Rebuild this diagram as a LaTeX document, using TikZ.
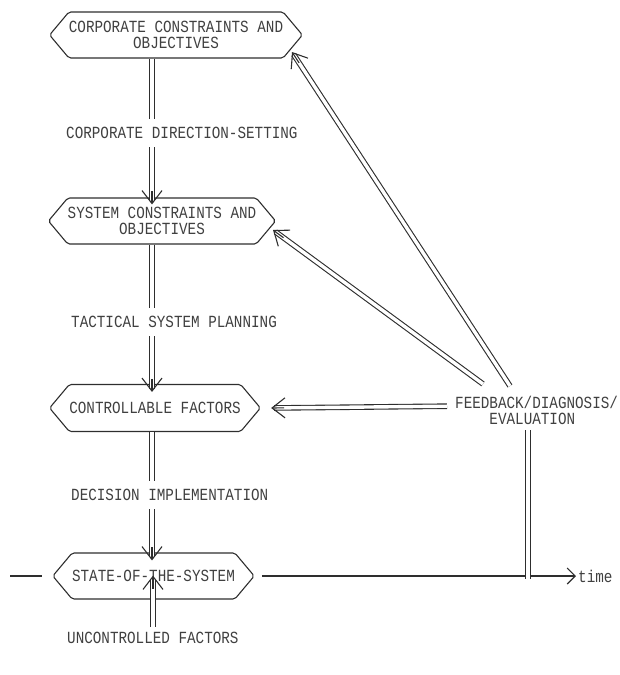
\documentclass[tikz,border=0pt]{standalone}
\usepackage{fontspec}
\newfontfamily\plotfont[FakeStretch=0.84]{Liberation Mono}
\usetikzlibrary{shapes.symbols,arrows.meta,calc}

% double-line shaft with an open V head at its end
\newcommand\dblto[2]{%
  \draw[dbl, shorten >=3pt] #1 -- #2;
  \draw[ink, -{Straight Barb[length=13pt,width=20pt]}] ($#2!13pt!#1$) -- #2;
}

\begin{document}
\begin{tikzpicture}[x=1pt,y=-1pt,
  ink/.style={draw=black!82, line width=1.1pt},
  txt/.style={font=\plotfont\fontsize{17}{15.5}\selectfont, text=black!75},
  hexbox/.style={ink, txt, signal, signal to=west and east,
    signal pointer angle=100, inner sep=0pt, align=center, rounded corners=2pt},
  lbl/.style={txt, fill=white, inner xsep=2pt, inner ysep=8pt},
  dbl/.style={ink, double=white, double distance=3.4pt},
]
\useasboundingbox (0,0) rectangle (619,675);

% the spine of the planning hierarchy
\coordinate (spine) at (152,0);

% hierarchy boxes
\node[hexbox, minimum width=247pt, minimum height=46pt] (b1) at (176,35)
  {CORPORATE CONSTRAINTS AND\\OBJECTIVES};
\node[hexbox, minimum width=217pt, minimum height=46pt] (b2) at (162,221)
  {SYSTEM CONSTRAINTS AND\\OBJECTIVES};
\node[hexbox, minimum width=196pt, minimum height=47pt] (b3) at (155,408)
  {CONTROLLABLE FACTORS};
\node[hexbox, minimum width=193pt, minimum height=46pt] (b4) at (153.5,576)
  {STATE-OF-THE-SYSTEM};

% downward flow
\dblto{(b1.south -| spine)}{($(b2.north -| spine)+(0,7)$)}
\dblto{(b2.south -| spine)}{($(b3.north -| spine)+(0,8)$)}
\dblto{(b3.south -| spine)}{($(b4.north -| spine)+(0,8)$)}

% process labels on the spine
\node[lbl, anchor=west] (l1) at (64,133) {CORPORATE DIRECTION-SETTING};
\node[lbl, anchor=west] (l2) at (69,322) {TACTICAL SYSTEM PLANNING};
\node[lbl, anchor=west] (l3) at (69,495) {DECISION IMPLEMENTATION};
\node[txt, anchor=west, inner sep=2pt] (l4) at (65,638) {UNCONTROLLED FACTORS};
\dblto{($(l4.north -| spine)+(1,-3)$)}{($(b4.south -| spine)+(1,-24)$)}

% feedback
\node[txt, anchor=north west, inner sep=0pt, align=left] (fb) at (455,396)
  {FEEDBACK/DIAGNOSIS/\\\phantom{FEED}EVALUATION};
\coordinate (d1) at (483,384);
\coordinate (d2) at (510,386);
\coordinate (t1) at (292,52);
\coordinate (t2) at (273,230);
\coordinate (vx) at (528,0);
\dblto{($(fb.west)+(-8,-4)$)}{($(b3.east)+(10,0)$)}
\dblto{(d1)}{(t2)}
\dblto{(d2)}{(t1)}

% time axis
\coordinate (tL) at (10,576);
\coordinate (tR) at (576,576);
\node[txt, anchor=west, inner sep=2pt] (time) at (tR) {time};
\draw[ink] (tL) -- ($(b4.west)+(-10,0)$);
\draw[ink, -{Straight Barb[length=8pt,width=16pt]}] ($(b4.east)+(7,0)$) -- (time.west);
\draw[dbl] ($(fb.south -| vx)+(0,6)$) -- ($(tL -| vx)+(0,3)$);

\end{tikzpicture}
\end{document}
